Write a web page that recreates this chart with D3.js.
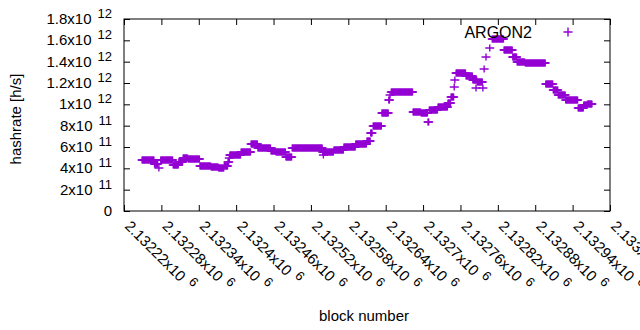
<!DOCTYPE html>
<html>
<head>
<meta charset="utf-8">
<script src="https://cdn.jsdelivr.net/npm/d3@7"></script>
<style>
  body { margin: 0; background: #fff; }
  text { font-family: "Liberation Sans", Arial, sans-serif; fill: #000; }
</style>
</head>
<body>
<svg id="chart" width="640" height="330"></svg>
<script>
// runs of consecutive blocks sharing the same hashrate (value in units of 1e11 h/s)
var runStart = [2132249, 2132269, 2132276, 2132279, 2132299, 2132308, 2132315, 2132323, 2132342, 2132360,
                2132372, 2132381, 2132387, 2132389, 2132390, 2132408, 2132424, 2132435, 2132456, 2132464,
                2132480, 2132490, 2132539, 2132557, 2132573, 2132592, 2132610, 2132616, 2132620, 2132634,
                2132645, 2132647, 2132649, 2132684, 2132697, 2132708, 2132710, 2132724, 2132740, 2132745,
                2132750, 2132751, 2132753, 2132769, 2132780, 2132787, 2132796, 2132798, 2132801, 2132807,
                2132811, 2132830, 2132844, 2132851, 2132864, 2132897, 2132909, 2132917, 2132929, 2132949,
                2132958, 2132964];
var runEnd   = [2132268, 2132274, 2132276, 2132298, 2132307, 2132314, 2132322, 2132341, 2132359, 2132371,
                2132380, 2132386, 2132388, 2132389, 2132407, 2132423, 2132434, 2132455, 2132463, 2132479,
                2132489, 2132538, 2132556, 2132572, 2132591, 2132609, 2132615, 2132618, 2132633, 2132644,
                2132646, 2132647, 2132683, 2132696, 2132707, 2132709, 2132723, 2132739, 2132744, 2132749,
                2132750, 2132751, 2132768, 2132779, 2132786, 2132795, 2132796, 2132798, 2132801, 2132807,
                2132829, 2132843, 2132850, 2132863, 2132896, 2132908, 2132916, 2132928, 2132948, 2132957,
                2132963, 2132971];
var runValue = [4.78, 4.41, 4.03, 4.78, 4.31, 4.59, 4.97, 4.88, 4.22, 4.13,
                4.03, 4.22, 4.59, 4.97, 5.25, 5.53, 6.28, 5.91, 5.63, 5.53,
                5.06, 5.91, 5.53, 5.72, 6.00, 6.28, 6.56, 7.31, 7.97, 9.19,
                10.41, 10.88, 11.16, 9.28, 9.19, 8.34, 9.47, 9.75, 10.13, 10.69,
                11.63, 12.28, 12.94, 12.66, 12.28, 12.09, 11.53, 13.31, 14.44, 15.28,
                16.13, 15.09, 14.44, 13.97, 13.88, 11.91, 11.34, 10.88, 10.41, 9.66,
                9.94, 10.03];

// stray single blocks off the runs
var strayBlock = [2132540, 2132785];
var strayValue = [5.25, 11.53];

var xTicks = [2132220, 2132280, 2132340, 2132400, 2132460, 2132520, 2132580,
              2132640, 2132700, 2132760, 2132820, 2132880, 2132940, 2133000];
var xTickLabels = ["2.13222", "2.13228", "2.13234", "2.1324", "2.13246", "2.13252", "2.13258",
                   "2.13264", "2.1327", "2.13276", "2.13282", "2.13288", "2.13294", "2.133"];
var xTickExp = "6";

var yTicks = [0, 2e11, 4e11, 6e11, 8e11, 1e12, 1.2e12, 1.4e12, 1.6e12, 1.8e12];
var yTickLabels = ["0", "2", "4", "6", "8", "1", "1.2", "1.4", "1.6", "1.8"];
var yTickExps = ["", "11", "11", "11", "11", "12", "12", "12", "12", "12"];

var seriesName = "ARGON2";
var purple = "#9400d3";

// expand the runs: one point per block
var points = [];
runStart.forEach((s, i) => {
    for (var b = s; b <= runEnd[i]; b++) points.push({ block: b, value: runValue[i] * 1e11 });
});
strayBlock.forEach((b, i) => points.push({ block: b, value: strayValue[i] * 1e11 }));

var svg = d3.select("#chart");
var plotLeft = 124, plotRight = 610, plotTop = 19, plotBottom = 211;

var x = d3.scaleLinear().domain([2132220, 2133000]).range([plotLeft, plotRight]);
var y = d3.scaleLinear().domain([0, 1.8e12]).range([plotBottom, plotTop]);

function plus(cx, cy, hx, hy) {
    return `M${cx - hx},${cy}H${cx + hx}M${cx},${cy - hy}V${cy + hy}`;
}

// ticks on all four sides, pointing inward
svg.append("g").attr("transform", `translate(0,${plotBottom})`)
    .call(d3.axisBottom(x).tickValues(xTicks).tickSize(-6).tickFormat(""));
svg.append("g").attr("transform", `translate(0,${plotTop})`)
    .call(d3.axisTop(x).tickValues(xTicks).tickSize(-6).tickFormat(""));
svg.append("g").attr("transform", `translate(${plotLeft},0)`)
    .call(d3.axisLeft(y).tickValues(yTicks).tickSize(-6).tickFormat(""));
svg.append("g").attr("transform", `translate(${plotRight},0)`)
    .call(d3.axisRight(y).tickValues(yTicks).tickSize(-6).tickFormat(""));
svg.selectAll(".domain").remove();
svg.selectAll(".tick line").attr("stroke", "#000");

svg.append("rect")
    .attr("x", plotLeft).attr("y", plotTop)
    .attr("width", plotRight - plotLeft).attr("height", plotBottom - plotTop)
    .attr("fill", "none").attr("stroke", "#000").attr("stroke-width", 1);

// y tick labels
var yl = svg.append("g").attr("font-size", 15);
yTicks.forEach((v, i) => {
    var t = yl.append("text")
        .attr("x", 112).attr("y", y(v) + 5)
        .attr("text-anchor", "end");
    if (yTickExps[i] === "") {
        t.text(yTickLabels[i]);
    } else {
        t.append("tspan").text(yTickLabels[i] + "x10");
        t.append("tspan").attr("dx", 6).attr("dy", -6).attr("font-size", 13).text(yTickExps[i]);
    }
});

// x tick labels, rotated
var xl = svg.append("g").attr("font-size", 15);
xTicks.forEach((v, i) => {
    var t = xl.append("text")
        .attr("transform", `translate(${x(v)},${plotBottom + 16}) rotate(45)`)
        .attr("text-anchor", "start");
    t.append("tspan").text(xTickLabels[i] + "x10");
    t.append("tspan").attr("dx", 6).attr("dy", -6).attr("font-size", 13).text(xTickExp);
});

// axis titles
svg.append("text")
    .attr("transform", "translate(21,119) rotate(-90)")
    .attr("text-anchor", "middle")
    .attr("font-size", 15)
    .text("hashrate [h/s]");

svg.append("text")
    .attr("x", 364).attr("y", 321)
    .attr("text-anchor", "middle")
    .attr("font-size", 15)
    .text("block number");

// points
svg.append("g")
    .attr("stroke", purple)
    .attr("stroke-width", 1.4)
    .attr("fill", "none")
    .selectAll("path")
    .data(points)
    .join("path")
    .attr("d", d => plus(x(d.block), y(d.value), 4.5, 3.5));

// key
svg.append("text")
    .attr("x", 532).attr("y", 38)
    .attr("text-anchor", "end")
    .attr("font-size", 16)
    .text(seriesName);
svg.append("path")
    .attr("d", plus(568, 32, 4.5, 4.5))
    .attr("stroke", purple)
    .attr("stroke-width", 1.4);
</script>
</body>
</html>
